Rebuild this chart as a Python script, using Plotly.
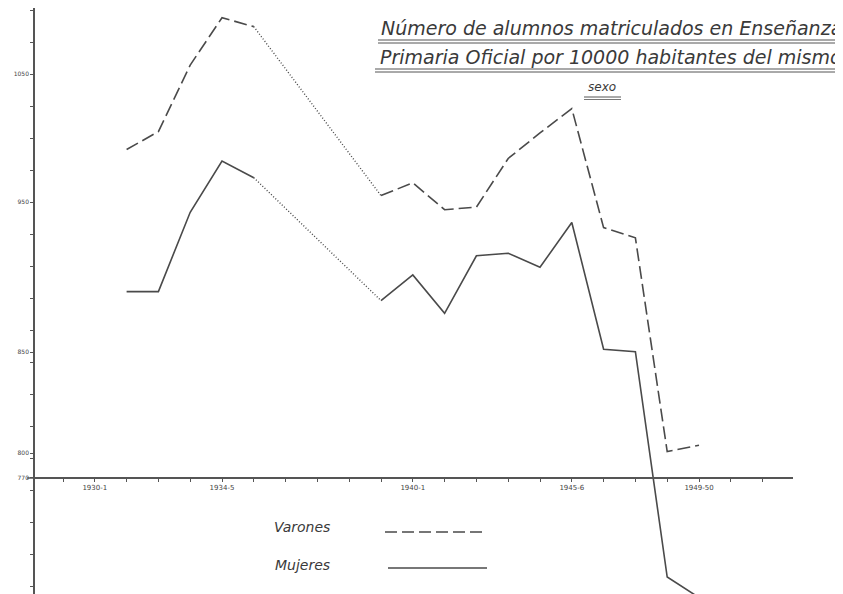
import plotly.graph_objects as go

# School years (start year of each course, e.g. 1931 -> 1931-2)
years = [1931, 1932, 1933, 1934, 1935, 1939, 1940, 1941, 1942, 1943, 1944, 1945, 1946, 1947, 1948, 1949]
varones = [991, 1005, 1057, 1094, 1087, 955, 965, 944, 946, 984, 1004, 1023, 930, 922, 755, 760]
mujeres = [880, 880, 942, 982, 969, 873, 893, 863, 908, 910, 899, 934, 835, 833, 657, 641]

x_tickvals = [1930, 1934, 1940, 1945, 1949]
x_ticktext = ["1930-1", "1934-5", "1940-1", "1945-6", "1949-50"]
y_tickvals = [1050, 950, 832.8, 753.9, 734.4]
y_ticktext = ["1050", "950", "850", "800", "770"]

gap_start = years.index(1935)
gap_end = years.index(1939)

INK = "#4a4a4a"
OFF = 8                      # page body margin
SW, SH = 843, 594            # screen size
W, H = SW - OFF, SH - OFF    # figure size

fig = go.Figure()

def add_series(vals, dash, name):
    fig.add_trace(go.Scatter(x=years[:gap_start + 1], y=vals[:gap_start + 1], mode="lines",
                             line=dict(color=INK, width=1.6, dash=dash), name=name, showlegend=False))
    fig.add_trace(go.Scatter(x=years[gap_start:gap_end + 1], y=vals[gap_start:gap_end + 1], mode="lines",
                             line=dict(color=INK, width=1.4, dash="1px,2px"), showlegend=False))
    fig.add_trace(go.Scatter(x=years[gap_end:], y=vals[gap_end:], mode="lines",
                             line=dict(color=INK, width=1.6, dash=dash), showlegend=False))

add_series(varones, "13px,5px", "Varones")
add_series(mujeres, "solid", "Mujeres")

def px(xp):
    return (xp - OFF) / W

def py(yp):
    return 1 - (yp - OFF) / H

hand_font = dict(family="DejaVu Sans", color="#3a3a3a")

annotations = [
    dict(text="<i>Número de alumnos matriculados en Enseñanza</i>", x=px(611), y=py(28),
         font=dict(size=19, **hand_font)),
    dict(text="<i>Primaria Oficial por 10000 habitantes del mismo</i>", x=px(611), y=py(57),
         font=dict(size=19, **hand_font)),
    dict(text="<i>sexo</i>", x=px(602), y=py(87), font=dict(size=12, **hand_font)),
    dict(text="<i>Varones</i>", x=px(302), y=py(527), font=dict(size=14, **hand_font)),
    dict(text="<i>Mujeres</i>", x=px(302), y=py(565), font=dict(size=14, **hand_font)),
]
for a in annotations:
    a.update(xref="paper", yref="paper", showarrow=False, xanchor="center", yanchor="middle")

shapes = []
for (x0, x1, yp, wd) in [(378, 843, 40, 1.2), (378, 843, 43, 1.0), (375, 843, 69, 1.2), (375, 843, 72, 1.0),
                         (584, 621, 97, 1.0), (584, 621, 99.5, 0.8)]:
    shapes.append(dict(type="line", xref="paper", yref="paper", x0=px(x0), x1=px(x1), y0=py(yp), y1=py(yp),
                       line=dict(color="#555555", width=wd)))
shapes.append(dict(type="line", xref="paper", yref="paper", x0=px(385), x1=px(485), y0=py(532), y1=py(532),
                   line=dict(color=INK, width=1.4, dash="12px,5px")))
shapes.append(dict(type="line", xref="paper", yref="paper", x0=px(388), x1=px(487), y0=py(568), y1=py(568),
                   line=dict(color=INK, width=1.4)))
shapes.append(dict(type="line", xref="paper", yref="paper", x0=px(27), x1=px(35), y0=py(478), y1=py(478),
                   line=dict(color="#555555", width=1.5)))

x_left = 1934 - (222 - 35) / 31.8
x_right = 1934 + (793 - 222) / 31.8
y_top = 1050 + (74 - OFF) * 0.78125
y_bot = 1050 - (SH - 74) * 0.78125

fig.update_layout(
    width=W, height=H,
    margin=dict(l=0, r=0, t=0, b=0),
    paper_bgcolor="white", plot_bgcolor="white",
    showlegend=False,
    annotations=annotations,
    shapes=shapes,
    xaxis=dict(domain=[px(35), px(793)], range=[x_left, x_right], anchor="free", position=py(478),
               showgrid=False, zeroline=False, showline=True, linecolor="#555555", linewidth=1.6,
               tickvals=x_tickvals, ticktext=x_ticktext, ticks="outside", ticklen=3, tickcolor="#555555",
               tickfont=dict(size=7, family="DejaVu Sans", color="#444444"),
               minor=dict(dtick=1, tick0=1930, ticks="outside", ticklen=3, tickcolor="#555555")),
    yaxis=dict(domain=[0, 1], range=[y_bot, y_top], showgrid=False, zeroline=False,
               showline=True, linecolor="#555555", linewidth=1.6,
               tickvals=y_tickvals, ticktext=y_ticktext, ticks="outside", ticklen=3, tickcolor="#555555",
               tickfont=dict(size=6, family="DejaVu Sans", color="#444444"),
               minor=dict(dtick=25, tick0=1050, ticks="outside", ticklen=3, tickcolor="#555555")),
)

fig.write_html("out.html")
